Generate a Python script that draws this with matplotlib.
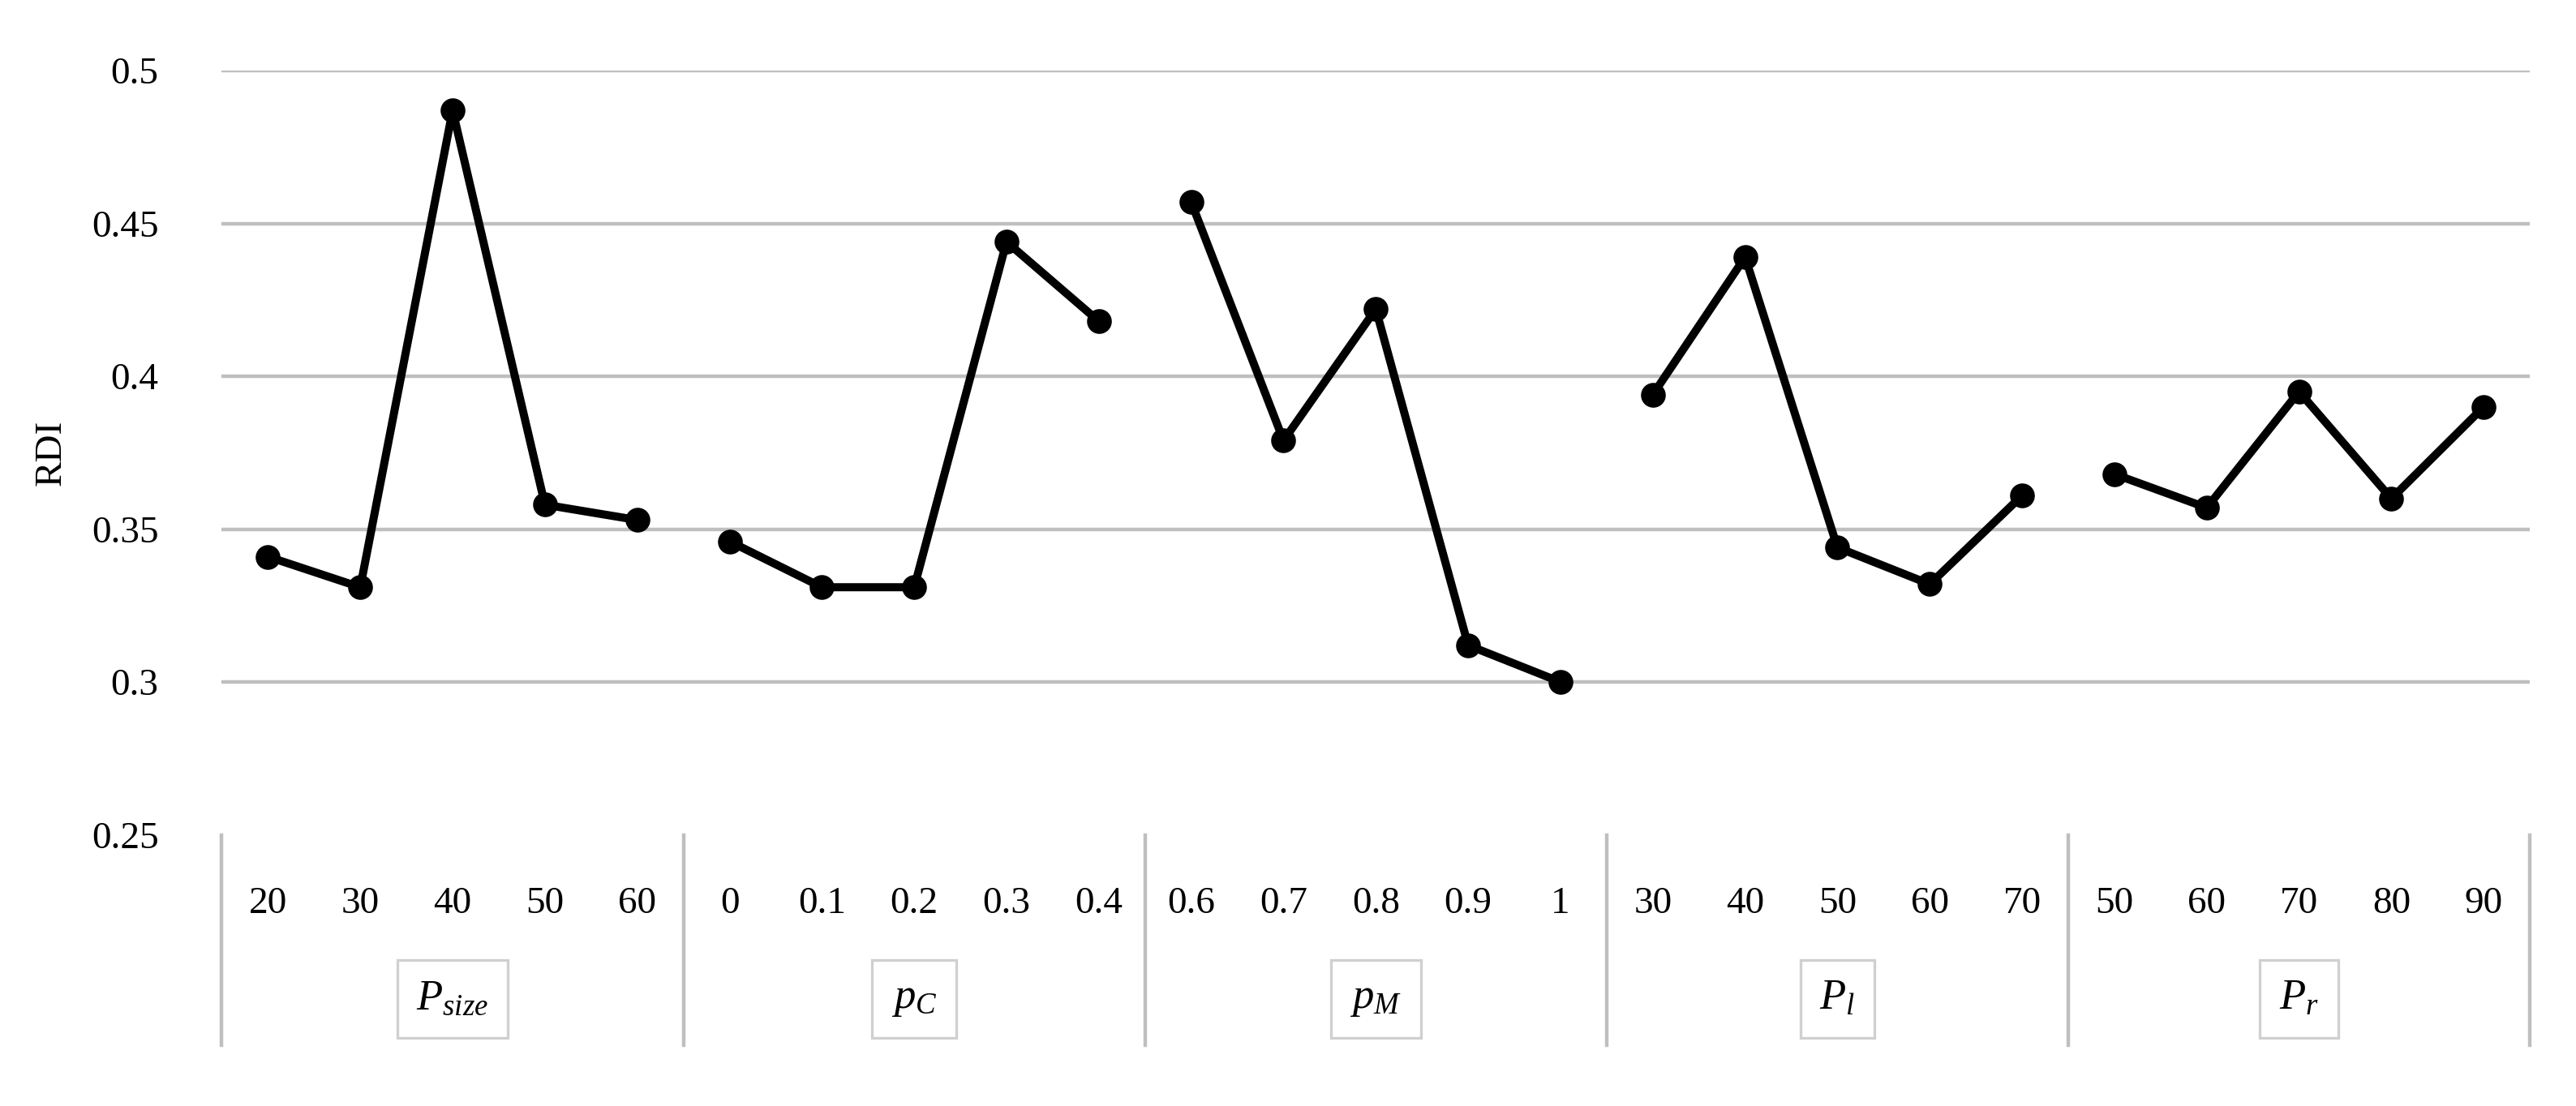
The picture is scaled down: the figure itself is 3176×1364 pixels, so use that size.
import matplotlib
matplotlib.use("Agg")
import matplotlib.pyplot as plt
import matplotlib.transforms as mtrans

plt.rcParams['font.family'] = ['Liberation Serif', 'DejaVu Serif']
plt.rcParams['mathtext.fontset'] = 'custom'
plt.rcParams['mathtext.it'] = 'Liberation Serif:italic'
plt.rcParams['mathtext.rm'] = 'Liberation Serif'

groups = [r'$P_{size}$', r'$p_C$', r'$p_M$', r'$P_l$', r'$P_r$']
tick_labels = [
    ['20', '30', '40', '50', '60'],
    ['0', '0.1', '0.2', '0.3', '0.4'],
    ['0.6', '0.7', '0.8', '0.9', '1'],
    ['30', '40', '50', '60', '70'],
    ['50', '60', '70', '80', '90'],
]
values = [
    [0.341, 0.331, 0.487, 0.358, 0.353],
    [0.346, 0.331, 0.331, 0.444, 0.418],
    [0.457, 0.379, 0.422, 0.312, 0.300],
    [0.394, 0.439, 0.344, 0.332, 0.361],
    [0.368, 0.357, 0.395, 0.360, 0.390],
]

fig = plt.figure(figsize=(15.88, 6.82), dpi=200)
ax = fig.add_axes([0.0861, 0.2452, 0.896, 0.6909])
ax.set_ylim(0.25, 0.5)
ax.set_xlim(-0.5, 24.5)
ax.set_yticks([0.25, 0.3, 0.35, 0.4, 0.45, 0.5])
ax.set_yticklabels(['0.25', '0.3', '0.35', '0.4', '0.45', '0.5'], fontsize=17)
for y in [0.3, 0.35, 0.4, 0.45, 0.5]:
    ax.axhline(y, color='#bfbfbf', lw=1.6, zorder=0)
for s in ax.spines.values():
    s.set_visible(False)
ax.tick_params(axis='y', length=0, pad=28)
ax.set_xticks([])
ax.set_ylabel('RDI', fontsize=17, labelpad=10)

tr = mtrans.blended_transform_factory(ax.transData, ax.transAxes)
for g, (name, labs, vals) in enumerate(zip(groups, tick_labels, values)):
    xs = [g * 5 + i for i in range(5)]
    ax.plot(xs, vals, color='black', lw=3.6, marker='o', markersize=10, clip_on=False, zorder=3)
    for x, l in zip(xs, labs):
        ax.text(x, -0.09, l, transform=tr, ha='center', va='center', fontsize=17)
    ax.text(g * 5 + 2, -0.215, name, transform=tr, ha='center', va='center', fontsize=19,
            bbox=dict(boxstyle='square,pad=0.45', fc='white', ec='#d0d0d0', lw=1.2))
for k in range(6):
    ax.plot([k * 5 - 0.5] * 2, [0, -0.275], transform=tr, color='#bfbfbf', lw=1.6, clip_on=False)

fig.savefig('out.png', dpi=200)
